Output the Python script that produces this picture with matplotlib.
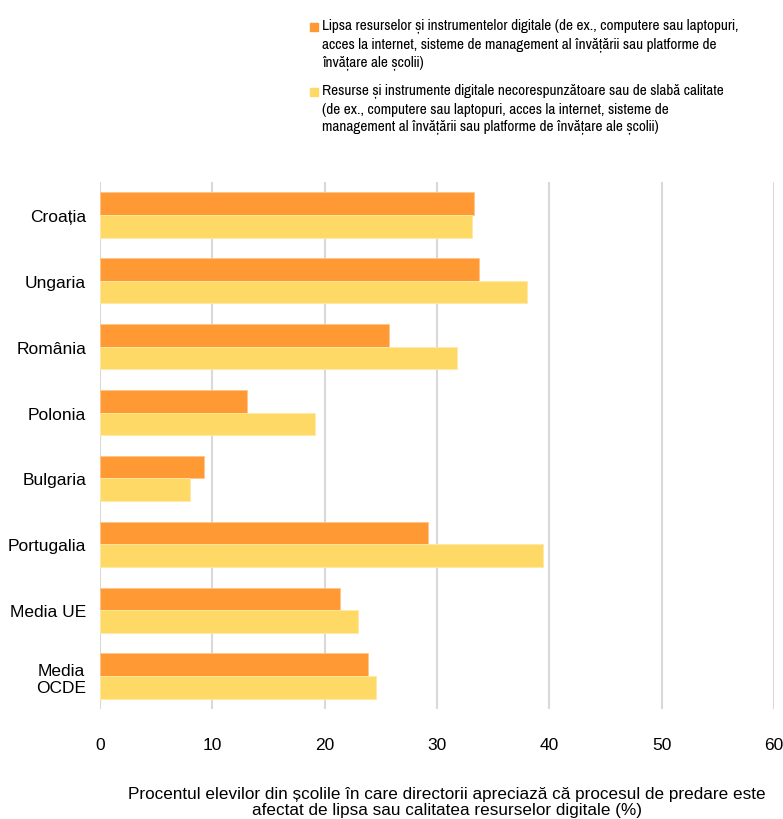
import matplotlib.pyplot as plt
import matplotlib.patches as mpatches
import numpy as np

plt.rcParams['font.family'] = ['Liberation Sans', 'DejaVu Sans']
legfont = ['Pragati Narrow', 'PT Sans Narrow', 'Roboto Condensed', 'Liberation Sans']

# date
tari = ['Croația', 'Ungaria', 'România', 'Polonia', 'Bulgaria', 'Portugalia', 'Media UE', 'Media\nOCDE']
lipsa = [33.3, 33.7, 25.7, 13.1, 9.3, 29.2, 21.4, 23.9]
calitate = [33.1, 38.0, 31.8, 19.1, 8.0, 39.4, 23.0, 24.6]

leg1 = ('Lipsa resurselor și instrumentelor digitale (de ex., computere sau laptopuri,\n'
        'acces la internet, sisteme de management al învățării sau platforme de\n'
        'învățare ale școlii)')
leg2 = ('Resurse și instrumente digitale necorespunzătoare sau de slabă calitate\n'
        '(de ex., computere sau laptopuri, acces la internet, sisteme de\n'
        'management al învățării sau platforme de învățare ale școlii)')
xlabel = ('Procentul elevilor din școlile în care directorii apreciază că procesul de predare este\n'
          'afectat de lipsa sau calitatea resurselor digitale (%)')

c1 = '#FF9933'
c2 = '#FFD966'

fig = plt.figure(figsize=(7.83, 8.2), dpi=100)
ax = fig.add_axes([0.1277, 0.134, 0.8608, 0.643])

y = np.arange(len(tari))
h = 0.345
ax.barh(y - h / 2, lipsa, height=h, color=c1, edgecolor='#FFC58A', linewidth=0.6, zorder=3)
ax.barh(y + h / 2, calitate, height=h, color=c2, edgecolor='#FFE9A8', linewidth=0.6, zorder=3)

ax.set_ylim(len(tari) - 0.5, -0.5)
ax.set_xlim(0, 60)
ax.set_xticks(range(0, 61, 10))
ax.set_yticks(y)
ax.set_yticklabels(tari, multialignment='center')
ax.tick_params(axis='both', length=0, labelsize=12.5)
ax.tick_params(axis='x', pad=20)
ax.tick_params(axis='y', pad=10)
ax.grid(axis='x', color='#D9D9D9', linewidth=1.5, zorder=0)
for s in ax.spines.values():
    s.set_visible(False)

fig.text(0.571, 0.021, xlabel, ha='center', va='center', fontsize=12.3, linespacing=1.1)

# legenda manuala (px de sus: varful textului, centrul patratului)
for ytop, ysq, txt, col in [(19, 28, leg1, c1), (84, 93, leg2, c2)]:
    fig.patches.append(mpatches.Rectangle((0.396, 1 - ysq / 820 - 0.0048), 0.0095, 0.0095,
                                          color=col, transform=fig.transFigure))
    fig.text(0.411, 1 - ytop / 820, txt, ha='left', va='top', fontsize=12,
             linespacing=1.32, family=legfont)

fig.savefig('out.png', dpi=100)
